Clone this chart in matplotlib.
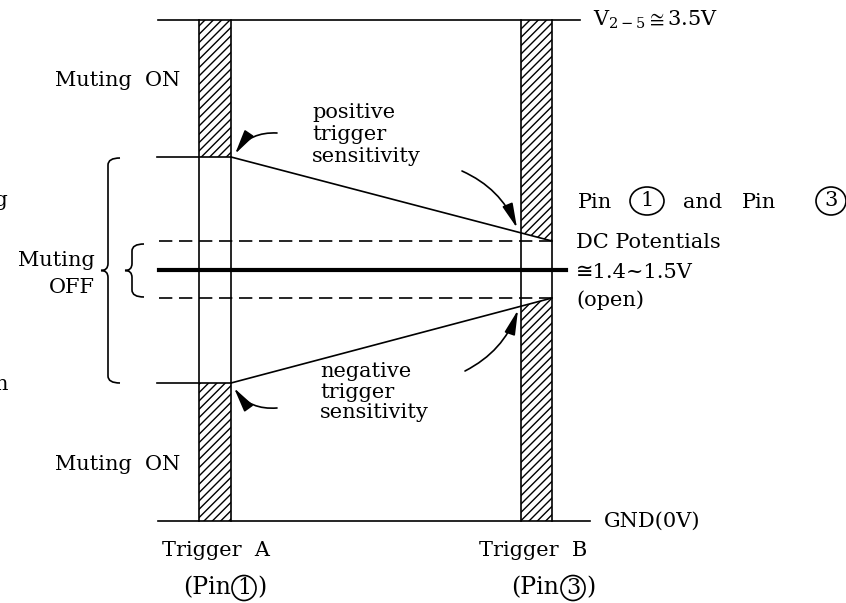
import matplotlib
matplotlib.use("Agg")
import matplotlib.pyplot as plt
from matplotlib.patches import Polygon, Ellipse, FancyArrowPatch, PathPatch
from matplotlib.path import Path

plt.rcParams['font.family'] = ['DejaVu Serif', 'DejaVu Sans']
plt.rcParams['mathtext.fontset'] = 'dejavuserif'
plt.rcParams['hatch.linewidth'] = 1.0

# voltage levels (pixel rows of the diagram)
v_top = 20
v_gnd = 521
pos_thr_a = 157      # positive trigger level at Trigger A
neg_thr_a = 383      # negative trigger level at Trigger A
pos_thr_b = 241      # positive trigger level at Trigger B
neg_thr_b = 298      # negative trigger level at Trigger B
dc_level = 270       # Pin 1 / Pin 3 DC potential

# trigger columns
col_a = [199, 231]
col_b = [521, 552]

top_label = r"V$_{2-5}\cong$3.5V"
gnd_label = "GND(0V)"
right_lines = ["DC Potentials", "≅1.4~1.5V", "(open)"]
pos_text = "positive\ntrigger\nsensitivity"
neg_text = "negative\ntrigger\nsensitivity"

FS = 15

fig = plt.figure(figsize=(8.46, 6.03), dpi=100)
ax = fig.add_axes([0, 0, 1, 1])
ax.set_xlim(0, 846)
ax.set_ylim(603, 0)
ax.axis('off')

LW = 1.2

# rails
ax.plot([158, 580], [v_top, v_top], color='k', lw=LW)
ax.plot([158, 590], [v_gnd, v_gnd], color='k', lw=LW)

# slope value at column B left edge
def at_x(x, y0, y1):
    return y0 + (y1 - y0) * (x - col_a[1]) / (col_b[1] - col_a[1])

pb_left = at_x(col_b[0], pos_thr_a, pos_thr_b)
nb_left = at_x(col_b[0], neg_thr_a, neg_thr_b)

# hatched regions
hatched = [
    [(col_a[0], v_top), (col_a[1], v_top), (col_a[1], pos_thr_a), (col_a[0], pos_thr_a)],
    [(col_a[0], neg_thr_a), (col_a[1], neg_thr_a), (col_a[1], v_gnd), (col_a[0], v_gnd)],
    [(col_b[0], v_top), (col_b[1], v_top), (col_b[1], pos_thr_b), (col_b[0], pb_left)],
    [(col_b[0], nb_left), (col_b[1], neg_thr_b), (col_b[1], v_gnd), (col_b[0], v_gnd)],
]
for pts in hatched:
    ax.add_patch(Polygon(pts, closed=True, facecolor='white', edgecolor='k',
                         hatch='////', lw=0))

# column outlines
for x in col_a + col_b:
    ax.plot([x, x], [v_top, v_gnd], color='k', lw=LW)

# trigger level lines at A
ax.plot([157, col_a[1]], [pos_thr_a, pos_thr_a], color='k', lw=LW)
ax.plot([157, col_a[1]], [neg_thr_a, neg_thr_a], color='k', lw=LW)

# sensitivity slopes
ax.plot([col_a[1], col_b[1]], [pos_thr_a, pos_thr_b], color='k', lw=LW)
ax.plot([col_a[1], col_b[1]], [neg_thr_a, neg_thr_b], color='k', lw=LW)

# dashed limits and DC level
ax.plot([159, col_b[1]], [pos_thr_b, pos_thr_b], color='k', lw=LW, ls=(0, (8, 4)))
ax.plot([159, col_b[1]], [neg_thr_b, neg_thr_b], color='k', lw=LW, ls=(0, (8, 4)))
ax.plot([159, 566], [dc_level, dc_level], color='k', lw=3)

# braces
def brace(x_tip, x_bar, x_end, y0, y1):
    ym = (y0 + y1) / 2
    r = 7
    verts = [(x_end, y0), (x_bar, y0), (x_bar, y0 + r),
             (x_bar, ym - r), (x_bar, ym), (x_tip, ym),
             (x_bar, ym), (x_bar, ym + r),
             (x_bar, y1 - r), (x_bar, y1), (x_end, y1)]
    codes = [Path.MOVETO, Path.CURVE3, Path.CURVE3,
             Path.LINETO, Path.CURVE3, Path.CURVE3,
             Path.CURVE3, Path.CURVE3,
             Path.LINETO, Path.CURVE3, Path.CURVE3]
    ax.add_patch(PathPatch(Path(verts, codes), fill=False, lw=LW, edgecolor='k'))

brace(101, 108, 120, pos_thr_a + 1, neg_thr_a)
brace(125, 132, 144, pos_thr_b + 3, neg_thr_b - 1)

# curved arrows
def carrow(p0, p1, rad):
    ax.add_patch(FancyArrowPatch(p0, p1, connectionstyle=f"arc3,rad={rad}",
                                 arrowstyle='-|>,head_length=1.0,head_width=0.22',
                                 mutation_scale=15, lw=LW, color='k',
                                 shrinkA=0, shrinkB=0))

carrow((277, 133), (235, 154), 0.28)
carrow((277, 408), (234, 388), -0.28)
carrow((462, 171), (517, 228), -0.2)
carrow((465, 371), (518, 310), 0.2)

# texts
ax.text(55, 80, "Muting  ON", fontsize=FS, va='center')
ax.text(55, 465, "Muting  ON", fontsize=FS, va='center')
ax.text(95, 274, "Muting\nOFF", fontsize=FS, va='center', ha='right',
        multialignment='right', linespacing=1.5)
ax.text(8, 200, "Muting", fontsize=FS, va='center', ha='right')
ax.text(9, 385, "Position", fontsize=FS, va='center', ha='right')

ax.text(312, 135, pos_text, fontsize=FS, va='center', linespacing=1.2)
ax.text(320, 392, neg_text, fontsize=FS, va='center', linespacing=1.1)

ax.text(593, 20, top_label, fontsize=FS, va='center')
ax.text(604, 521, gnd_label, fontsize=FS, va='center')


def circled(x, y, num, w, h, fs=FS):
    ax.add_patch(Ellipse((x, y), w, h, fill=False, lw=LW, edgecolor='k'))
    ax.text(x, y, num, fontsize=fs, ha='center', va='center')

# Pin 1 and Pin 3 heading
ax.text(578, 203, "Pin", fontsize=FS, va='center')
circled(647, 201, "1", 34, 28)
ax.text(683, 203, "and", fontsize=FS, va='center')
ax.text(742, 203, "Pin", fontsize=FS, va='center')
circled(831, 201, "3", 30, 28)

for y, s in zip([243, 272, 300], right_lines):
    ax.text(576, y, s, fontsize=FS, va='center')

# bottom labels
ax.text(162, 550, "Trigger  A", fontsize=FS, va='center')
ax.text(231, 588, "(Pin", fontsize=17, va='center', ha='right')
circled(244, 588, "1", 24, 25, 16)
ax.text(257, 588, ")", fontsize=17, va='center')

ax.text(479, 550, "Trigger  B", fontsize=FS, va='center')
ax.text(559, 588, "(Pin", fontsize=17, va='center', ha='right')
circled(573, 588, "3", 24, 25, 16)
ax.text(586, 588, ")", fontsize=17, va='center')

fig.savefig("out.png", dpi=100)
